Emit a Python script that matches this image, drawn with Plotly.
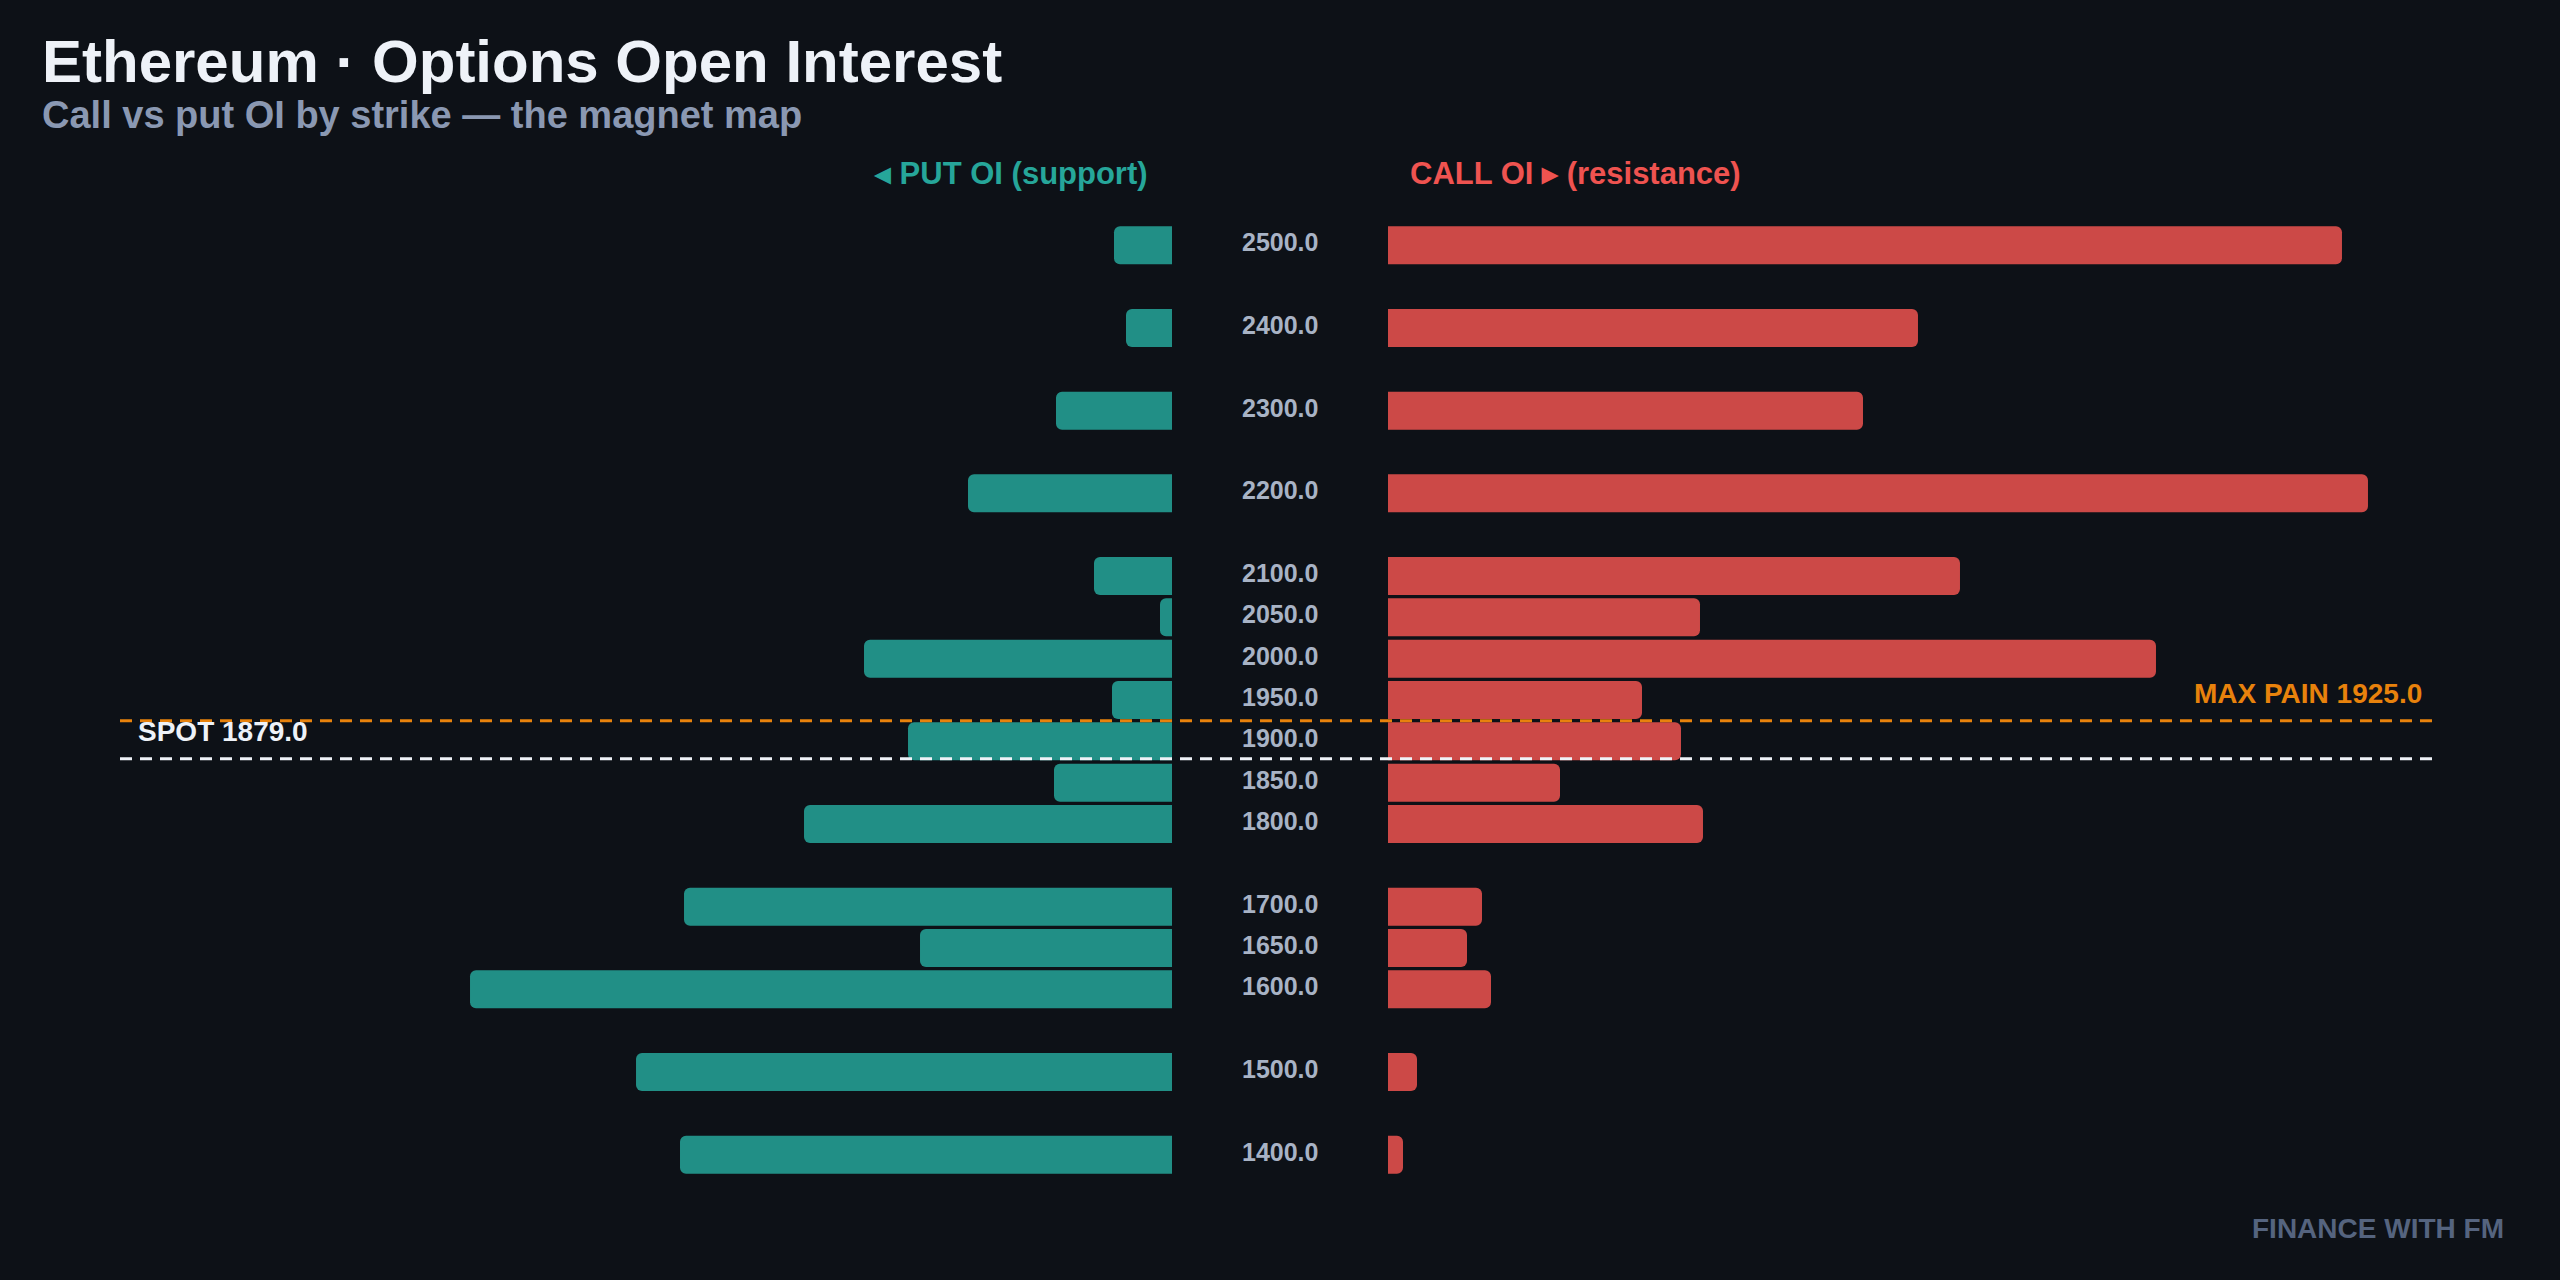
import plotly.graph_objects as go

# ---------------- data ----------------
strikes = [2500, 2400, 2300, 2200, 2100, 2050, 2000, 1950, 1900, 1850, 1800, 1700, 1650, 1600, 1500, 1400]
put_oi = [5800, 4600, 11600, 20400, 7800, 1200, 30800, 6000, 26400, 11800, 36800, 48800, 25200, 70200, 53600, 49200]
call_oi = [95400, 53000, 47500, 98000, 57200, 31200, 76800, 25400, 29300, 17200, 31500, 9400, 7900, 10300, 2900, 1500]
strike_labels = [f"{s:.1f}" for s in strikes]
spot_price = 1879.0
max_pain = 1925.0

title_text = "Ethereum · Options Open Interest"
subtitle_text = "Call vs put OI by strike — the magnet map"
put_header = "◂ PUT OI (support)"
call_header = "CALL OI ▸ (resistance)"
footer_text = "FINANCE WITH FM"

# ---------------- style ----------------
W, H = 2560, 1280
ML, MR, MT, MB = 120, 120, 204, 84
BG = "#0d1117"
TEAL = "#26a69a"
RED = "#ef5350"
ORANGE = "#e8820c"
WHITE = "#eef2f8"
FONT = "Liberation Sans, Arial, Helvetica, sans-serif"

plot_w = W - ML - MR
plot_h = H - MT - MB
gap_px = 216
side_px = (plot_w - gap_px) / 2
d_left = [0, side_px / plot_w]
d_right = [1 - side_px / plot_w, 1]

xmax = max(max(put_oi), max(call_oi)) * 1.0735


def py(ypx):
    return (H - MB - ypx) / plot_h


def px(xpx):
    return (xpx - ML) / plot_w


fig = go.Figure()
fig.add_trace(go.Bar(
    x=put_oi, y=strikes, orientation="h", xaxis="x", yaxis="y",
    marker=dict(color=TEAL, opacity=0.85, line=dict(width=0)),
    name="Put OI", showlegend=False, hoverinfo="x+y",
))
fig.add_trace(go.Bar(
    x=call_oi, y=strikes, orientation="h", xaxis="x2", yaxis="y2",
    marker=dict(color=RED, opacity=0.85, line=dict(width=0)),
    name="Call OI", showlegend=False, hoverinfo="x+y",
))

yr = [1350, 2550]
fig.update_layout(
    width=W, height=H,
    paper_bgcolor=BG, plot_bgcolor=BG,
    margin=dict(l=ML, r=MR, t=MT, b=MB, pad=0),
    bargap=0.08,
    barcornerradius=6,
    font=dict(family=FONT, color=WHITE),
    xaxis=dict(domain=d_left, range=[xmax, 0], anchor="y", visible=False, showgrid=False, zeroline=False),
    xaxis2=dict(domain=d_right, range=[0, xmax], anchor="y2", visible=False, showgrid=False, zeroline=False),
    yaxis=dict(range=yr, anchor="x", showgrid=False, zeroline=False, showticklabels=False, showline=False, ticks=""),
    yaxis2=dict(range=yr, anchor="x2", matches="y", showgrid=False, zeroline=False, showline=False, ticks="",
                showticklabels=False),
    showlegend=False,
)

# strike labels in the centre gap, placed on the shared strike axis
for s, lab in zip(strikes, strike_labels):
    fig.add_annotation(text=lab, xref="paper", x=0.5, xanchor="center",
                       yref="y", y=s, yanchor="middle", yshift=3, showarrow=False,
                       font=dict(family=FONT, size=25, color="#a8b3c5", weight=700))

dash = "12px,8px"
fig.add_shape(type="line", xref="paper", x0=0, x1=1, yref="y", y0=max_pain, y1=max_pain,
              line=dict(color=ORANGE, width=3, dash=dash), layer="above")
fig.add_shape(type="line", xref="paper", x0=0, x1=1, yref="y", y0=spot_price, y1=spot_price,
              line=dict(color=WHITE, width=3, dash=dash), layer="above")

fig.add_annotation(text=f"MAX PAIN {max_pain:.1f}", xref="paper", x=1, xanchor="right", xshift=-16,
                   yref="y", y=max_pain, yanchor="bottom", yshift=10, showarrow=False,
                   font=dict(family=FONT, size=28, color=ORANGE, weight=700))
fig.add_annotation(text=f"SPOT {spot_price:.1f}", xref="paper", x=0, xanchor="left", xshift=16,
                   yref="y", y=spot_price, yanchor="bottom", yshift=10, showarrow=False,
                   font=dict(family=FONT, size=28, color=WHITE, weight=700))

fig.add_annotation(text=title_text, xref="paper", x=px(40), xanchor="left",
                   yref="paper", y=py(61), yanchor="middle", showarrow=False,
                   font=dict(family=FONT, size=60, color=WHITE, weight=700))
fig.add_annotation(text=subtitle_text, xref="paper", x=px(40), xanchor="left",
                   yref="paper", y=py(115), yanchor="middle", showarrow=False,
                   font=dict(family=FONT, size=38, color="#8a98b2", weight=700))

fig.add_annotation(text=put_header, xref="paper", x=d_left[1], xanchor="right", xshift=-22,
                   yref="paper", y=py(173), yanchor="middle", showarrow=False,
                   font=dict(family=FONT, size=31, color=TEAL, weight=700))
fig.add_annotation(text=call_header, xref="paper", x=d_right[0], xanchor="left", xshift=20,
                   yref="paper", y=py(173), yanchor="middle", showarrow=False,
                   font=dict(family=FONT, size=31, color=RED, weight=700))

fig.add_annotation(text=footer_text, xref="paper", x=px(2506), xanchor="right",
                   yref="paper", y=py(1228), yanchor="middle", showarrow=False,
                   font=dict(family=FONT, size=28, color="#55647f", weight=700))

fig.write_html("out.html")
